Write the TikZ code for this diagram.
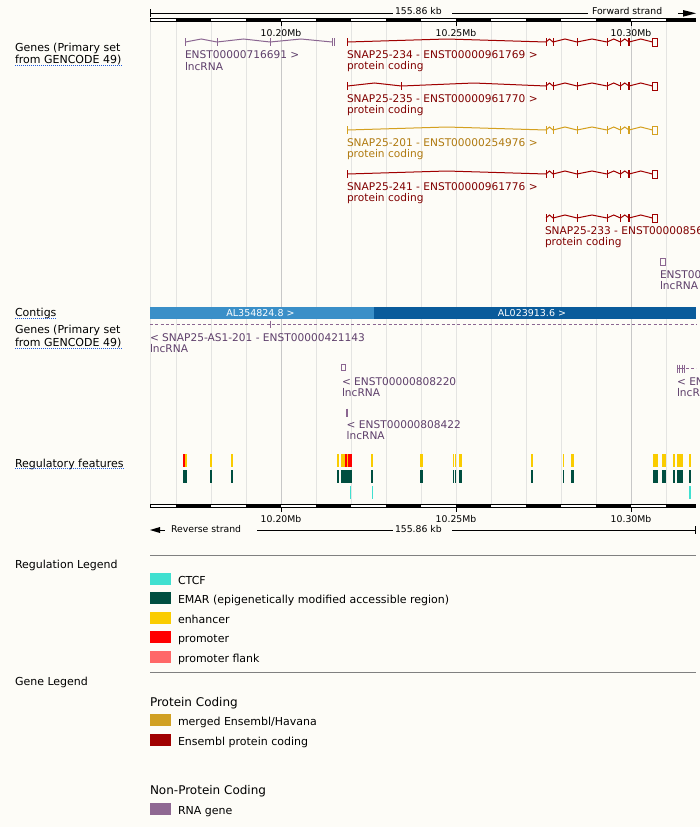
\documentclass[tikz,border=0pt]{standalone}
\usepackage{fontspec}
\setmainfont{DejaVu Sans}
\definecolor{bgc}{RGB}{253,252,247}
\definecolor{gridc}{RGB}{228,228,226}
\definecolor{gridm}{RGB}{200,200,200}
\definecolor{pcred}{RGB}{160,0,0}
\definecolor{pcredtxt}{RGB}{128,0,0}
\definecolor{pcgold}{RGB}{212,160,32}
\definecolor{pcgoldtxt}{RGB}{176,122,16}
\definecolor{rnap}{RGB}{139,102,145}
\definecolor{rnatxt}{RGB}{94,63,107}
\definecolor{ctgl}{RGB}{58,143,200}
\definecolor{ctgd}{RGB}{10,91,155}
\definecolor{enh}{RGB}{250,204,0}
\definecolor{prom}{RGB}{255,0,0}
\definecolor{emar}{RGB}{0,78,64}
\definecolor{ctcf}{RGB}{64,224,208}
\definecolor{pflank}{RGB}{255,104,104}
\definecolor{ulblue}{RGB}{30,90,220}
\definecolor{legline}{RGB}{128,128,128}
\definecolor{legrna}{RGB}{143,104,146}
\definecolor{leggold}{RGB}{209,160,34}

\newcommand{\gIntron}[4]{\draw[#1] (#2,#4) -- ({(#2+#3)/2},{#4-3}) -- (#3,#4);}
\newcommand{\gExon}[3]{\draw[#1] (#2,{#3-4}) -- (#2,{#3+4});}
\newcommand{\pcTail}[2]{%
 \gExon{#1}{546}{#2}\gIntron{#1}{546}{553}{#2}\gExon{#1}{553}{#2}%
 \gIntron{#1}{553}{577}{#2}\gExon{#1}{577}{#2}%
 \gIntron{#1}{577}{607}{#2}\gExon{#1}{607}{#2}%
 \gIntron{#1}{607}{620.5}{#2}\gExon{#1}{620.5}{#2}%
 \gIntron{#1}{620.5}{629}{#2}\draw[#1,line width=2pt] (629,{#2-4}) -- (629,{#2+4});%
 \gIntron{#1}{629}{652.5}{#2}\draw[#1] (652.5,{#2-4}) rectangle (657.5,{#2+4});}
\newcommand{\uLine}[1]{\draw[uline] ([yshift=-1.5pt]#1.base west) -- ([yshift=-1.5pt]#1.base east);}

\begin{document}
\begin{tikzpicture}[x=1pt,y=-1pt,
  txt/.style={inner sep=0pt, outer sep=0pt, anchor=base west},
  lab/.style={txt, font=\fontsize{11}{13}\selectfont, text=black},
  trk/.style={txt, font=\fontsize{10.6}{12}\selectfont},
  rul/.style={inner sep=0pt, outer sep=0pt, anchor=base, font=\fontsize{9.3}{11}\selectfont},
  ctg/.style={inner sep=0pt, outer sep=0pt, anchor=base, font=\fontsize{9.5}{11}\selectfont, text=white},
  leg/.style={txt, font=\fontsize{11}{13}\selectfont},
  head/.style={txt, font=\fontsize{12}{14}\selectfont},
  uline/.style={ulblue, line width=1pt, dash pattern=on 1pt off 1pt},
  gridl/.style={gridc, line width=1pt},
  pcr/.style={pcred, line width=1pt},
  pcg/.style={pcgold, line width=1pt},
  rna/.style={rnap, line width=1pt},
  thinblk/.style={black, line width=1pt}]
\fill[bgc] (0,0) rectangle (700,827);
\useasboundingbox (0,0) rectangle (700,827);
\clip (0,0) rectangle (700,827);

% grid lines
\draw[gridl] (150.5,22) -- (150.5,504);
\foreach \gx in {176.5,211.5,...,666.5} \draw[gridl] (\gx,22) -- (\gx,504);
\draw[gridm, line width=1pt] (281.5,22) -- (281.5,504);
\draw[gridm, line width=1pt] (631.5,22) -- (631.5,504);

% top ruler
\node[rul, anchor=base west] (kbtop) at (395,14) {155.86 kb};
\node[rul, anchor=base west] (fwd) at (592,14) {Forward strand};
\draw[thinblk] (150,13) -- (393,13);
\draw[thinblk] (452,13) -- (588,13);
\draw[thinblk] (150.5,9) -- (150.5,17);
\draw[thinblk] (678,13.3) -- (685,13.3);
\fill[black] (683,10) -- (696,13.3) -- (683,16.7) -- cycle;
\draw[thinblk, fill=white] (150.5,18.5) rectangle (695.5,21.5);
\foreach \bx in {176,246,...,596} \fill[black] (\bx,18) rectangle ({\bx+35},22);
\fill[black] (666,18) rectangle (696,22);
\foreach \tx in {281.5,456.5,631.5} \draw[thinblk] (\tx,22) -- (\tx,25.5);
\node[rul] (t20) at (281,36) {10.20Mb};
\node[rul] (t25) at (456,36) {10.25Mb};
\node[rul] (t30) at (631,36) {10.30Mb};

% bottom ruler
\draw[thinblk, fill=white] (150.5,504.5) rectangle (695.5,507.5);
\foreach \bx in {176,246,...,596} \fill[black] (\bx,504) rectangle ({\bx+35},508);
\fill[black] (666,504) rectangle (696,508);
\foreach \tx in {281.5,456.5,631.5} \draw[thinblk] (\tx,508) -- (\tx,511.5);
\node[rul] (b20) at (281,522) {10.20Mb};
\node[rul] (b25) at (456,522) {10.25Mb};
\node[rul] (b30) at (631,522) {10.30Mb};
\fill[black] (150,530) -- (160,527) -- (160,533) -- cycle;
\draw[thinblk] (155,530) -- (165,530);
\node[rul, anchor=base west] (rev) at (171,532) {Reverse strand};
\node[rul, anchor=base west] (kbbot) at (395,532) {155.86 kb};
\draw[thinblk] (257,530) -- (393,530);
\draw[thinblk] (452,530) -- (696,530);
\draw[thinblk] (695.5,526) -- (695.5,534);

% left labels
\node[lab] (gf1) at (15,51) {Genes (Primary set};
\node[lab] (gf2) at (15,63.5) {from GENCODE 49)};
\uLine{gf2}
\node[lab] (ctl) at (15,316.5) {Contigs};
\uLine{ctl}
\node[lab] (gr1) at (15,333.5) {Genes (Primary set};
\node[lab] (gr2) at (15,346.5) {from GENCODE 49)};
\uLine{gr2}
\node[lab] (rfl) at (15,467) {Regulatory features};
\uLine{rfl}
\node[lab] (rlg) at (15,568) {Regulation Legend};
\node[lab] (glg) at (15,685) {Gene Legend};

% forward genes
% row 1
\gExon{rna}{185.5}{42}\gIntron{rna}{185.5}{217}{42}\gExon{rna}{217}{42}
\gIntron{rna}{217}{270}{42}\gExon{rna}{270}{42}\gIntron{rna}{270}{332}{42}
\gExon{rna}{332}{42}\gExon{rna}{334.5}{42}
\node[trk,text=rnatxt] (l1a) at (185,58.3) {ENST00000716691 >};
\node[trk,text=rnatxt] (l1b) at (185,70) {lncRNA};
\gExon{pcr}{347.5}{42}\gIntron{pcr}{347.5}{546}{42}\pcTail{pcr}{42}
\node[trk,text=pcredtxt] (l2a) at (347,58.3) {SNAP25-234 - ENST00000961769 >};
\node[trk,text=pcredtxt] (l2b) at (347,69.8) {protein coding};
% row 2
\gExon{pcr}{347.5}{86}\gIntron{pcr}{347.5}{401.5}{86}\gExon{pcr}{401.5}{86}
\gIntron{pcr}{401.5}{546}{86}\pcTail{pcr}{86}
\node[trk,text=pcredtxt] (l3a) at (347,102.3) {SNAP25-235 - ENST00000961770 >};
\node[trk,text=pcredtxt] (l3b) at (347,113.8) {protein coding};
% row 3
\gExon{pcg}{347.5}{130}\gIntron{pcg}{347.5}{546}{130}\pcTail{pcg}{130}
\node[trk,text=pcgoldtxt] (l4a) at (347,146.3) {SNAP25-201 - ENST00000254976 >};
\node[trk,text=pcgoldtxt] (l4b) at (347,157.8) {protein coding};
% row 4
\gExon{pcr}{347.5}{174}\gIntron{pcr}{347.5}{546}{174}\pcTail{pcr}{174}
\node[trk,text=pcredtxt] (l5a) at (347,190.3) {SNAP25-241 - ENST00000961776 >};
\node[trk,text=pcredtxt] (l5b) at (347,201.8) {protein coding};
% row 5
\pcTail{pcr}{218}
\node[trk,text=pcredtxt] (l6a) at (545,234.3) {SNAP25-233 - ENST00000856};
\node[trk,text=pcredtxt] (l6b) at (545,245.8) {protein coding};
% row 6
\draw[rna] (660.5,258.5) rectangle (665,265.5);
\node[trk,text=rnatxt] (l7a) at (660,278) {ENST00};
\node[trk,text=rnatxt] (l7b) at (660,289.5) {lncRNA};

% contigs
\fill[ctgl] (150,307) rectangle (374,319);
\fill[ctgd] (374,307) rectangle (696,319);
\node[ctg] (c1) at (260.5,316.5) {AL354824.8 >};
\node[ctg] (c2) at (532,316.5) {AL023913.6 >};

% reverse genes
\draw[rna, dash pattern=on 3pt off 2.3pt] (150,324.5) -- (696,324.5);
\draw[rna] (270.5,320.5) -- (270.5,328);
\node[trk,text=rnatxt] (r1a) at (150,341.7) {< SNAP25-AS1-201 - ENST00000421143};
\node[trk,text=rnatxt] (r1b) at (150,352.3) {lncRNA};
\draw[rna] (341.5,364.5) rectangle (345.5,370.5);
\node[trk,text=rnatxt] (r2a) at (342,385) {< ENST00000808220};
\node[trk,text=rnatxt] (r2b) at (342,396) {lncRNA};
\draw[rna, line width=1.6pt] (346.8,408.5) -- (346.8,416.5);
\node[trk,text=rnatxt] (r3a) at (346.7,428.3) {< ENST00000808422};
\node[trk,text=rnatxt] (r3b) at (346.7,439.3) {lncRNA};
\foreach \ex in {677.5,679.8,682,684} \draw[rna] (\ex,364.5) -- (\ex,372.5);
\draw[rna] (677.5,368.5) -- (684,368.5);
\draw[rna, dash pattern=on 2.5pt off 2.5pt] (686,368.5) -- (696,368.5);
\node[trk,text=rnatxt] (r4a) at (677,385) {< EN};
\node[trk,text=rnatxt] (r4b) at (677,396) {lncR};

% regulatory features
\foreach \a/\b in {185/187,210/212,231/233,337/339,341/345,347/348,371/373,420/423,453/454,455/456,459/462,531/533,563/564,571/574,653/658,662/666,673/675,677/683,689/691}
  \fill[enh] (\a,454) rectangle (\b,466.5);
\foreach \a/\b in {183/185,345/347,348/352}
  \fill[prom] (\a,454) rectangle (\b,466.5);
\foreach \a/\b in {183/187,210/212,231/233,337/339,341/352,371/373,420/423,453/454,455/456,459/462,531/533,563/564,571/574,653/658,662/666,673/675,677/683,689/691}
  \fill[emar] (\a,470) rectangle (\b,482.5);
\foreach \a/\b in {350/351,372/373,689/691}
  \fill[ctcf] (\a,486) rectangle (\b,498.5);

% regulation legend
\draw[legline, line width=1pt] (150,555.5) -- (696,555.5);
\fill[ctcf] (150,573.3) rectangle (171,585);
\node[leg] (lg1) at (178,584) {CTCF};
\fill[emar] (150,592.3) rectangle (171,603.7);
\node[leg] (lg2) at (178,603) {EMAR (epigenetically modified accessible region)};
\fill[enh] (150,612.3) rectangle (171,623.7);
\node[leg] (lg3) at (178,623) {enhancer};
\fill[prom] (150,631.3) rectangle (171,642.7);
\node[leg] (lg4) at (178,642) {promoter};
\fill[pflank] (150,651.3) rectangle (171,662.7);
\node[leg] (lg5) at (178,662) {promoter flank};
\draw[legline, line width=1pt] (150,672.5) -- (696,672.5);

% gene legend
\node[head] (h1) at (150,706) {Protein Coding};
\fill[leggold] (150,714) rectangle (171,725.7);
\node[leg] (gl1) at (178,725) {merged Ensembl/Havana};
\fill[pcred] (150,734) rectangle (171,745.7);
\node[leg] (gl2) at (178,745) {Ensembl protein coding};
\node[head] (h2) at (150,794.3) {Non-Protein Coding};
\fill[legrna] (150,803) rectangle (171,815);
\node[leg] (gl3) at (178,814) {RNA gene};
\end{tikzpicture}
\end{document}
